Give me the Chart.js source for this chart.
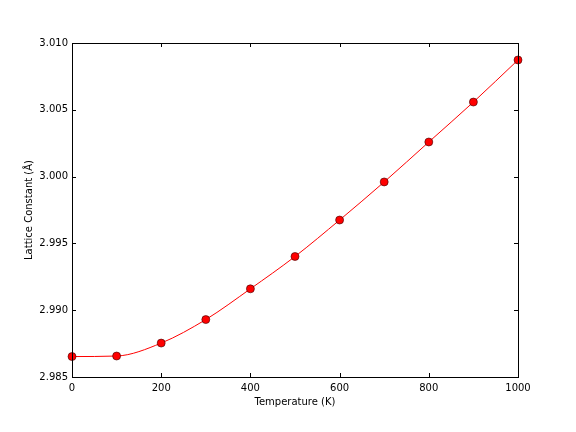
<!DOCTYPE html>
<html>
<head>
<meta charset="utf-8">
<script src="https://cdn.jsdelivr.net/npm/chart.js@4/dist/chart.umd.min.js"></script>
<style>
  html, body { margin: 0; padding: 0; background: #fff; }
  #wrap { width: 576px; height: 432px; }
</style>
</head>
<body>
<div id="wrap"><canvas id="chart" width="576" height="432"></canvas></div>
<script>
const temperatures = [0, 100, 200, 300, 400, 500, 600, 700, 800, 900, 1000]
const latticeConst = [2.98653, 2.98657, 2.98754, 2.98930, 2.99160, 2.99402, 2.99675, 2.99960, 3.00259, 3.00558, 3.00873]
const xTicks = [0, 200, 400, 600, 800, 1000]
const yTicks = [2.985, 2.990, 2.995, 3.000, 3.005, 3.010]

Chart.defaults.font.family = 'DejaVu Sans'
Chart.defaults.font.size = 10
Chart.defaults.color = '#000'

// matplotlib-style frame with inward ticks on all four sides
const frameTicks = {
  id: 'frameTicks',
  afterDraw(chart) {
    const { ctx, chartArea: a, scales: { x, y } } = chart
    ctx.save()
    ctx.strokeStyle = '#000'
    ctx.lineWidth = 1
    const len = 4
    ctx.beginPath()
    xTicks.forEach(v => {
      const px = Math.round(x.getPixelForValue(v)) + 0.5
      ctx.moveTo(px, a.bottom); ctx.lineTo(px, a.bottom - len)
      ctx.moveTo(px, a.top);    ctx.lineTo(px, a.top + len)
    })
    yTicks.forEach(v => {
      const py = Math.round(y.getPixelForValue(v)) + 0.5
      ctx.moveTo(a.left, py);  ctx.lineTo(a.left + len, py)
      ctx.moveTo(a.right, py); ctx.lineTo(a.right - len, py)
    })
    ctx.stroke()
    ctx.strokeRect(Math.round(a.left) + 0.5, Math.round(a.top) + 0.5,
                   Math.round(a.right - a.left), Math.round(a.bottom - a.top))
    ctx.restore()
  }
}

new Chart(document.getElementById('chart'), {
  type: 'scatter',
  data: {
    datasets: [{
      data: temperatures.map((t, i) => ({ x: t, y: latticeConst[i] })),
      showLine: true,
      borderColor: '#ff0000',
      borderWidth: 1,
      cubicInterpolationMode: 'monotone',
      pointRadius: 4,
      pointBackgroundColor: '#ff0000',
      pointBorderColor: '#3a0000',
      pointBorderWidth: 0.6,
      clip: false
    }]
  },
  options: {
    responsive: false,
    animation: false,
    layout: { padding: { left: 23, top: 43, right: 58, bottom: 24 } },
    plugins: { legend: { display: false }, tooltip: { enabled: false } },
    scales: {
      x: {
        type: 'linear',
        min: 0, max: 1000,
        afterFit: s => { s.height = 31 },
        afterBuildTicks: s => { s.ticks = xTicks.map(v => ({ value: v })) },
        grid: { display: false, drawTicks: false },
        border: { display: false },
        ticks: { padding: 5, maxRotation: 0, callback: v => String(v) },
        title: { display: true, text: 'Temperature (K)', padding: { top: 2, bottom: 0 } }
      },
      y: {
        min: 2.985, max: 3.010,
        afterFit: s => { s.width = 49 },
        afterBuildTicks: s => { s.ticks = yTicks.map(v => ({ value: v })) },
        grid: { display: false, drawTicks: false },
        border: { display: false },
        ticks: { padding: 4, callback: v => Number(v).toFixed(3) },
        title: { display: true, text: 'Lattice Constant (Å)', padding: { top: 0, bottom: 0 } }
      }
    }
  },
  plugins: [frameTicks]
})
</script>
</body>
</html>
